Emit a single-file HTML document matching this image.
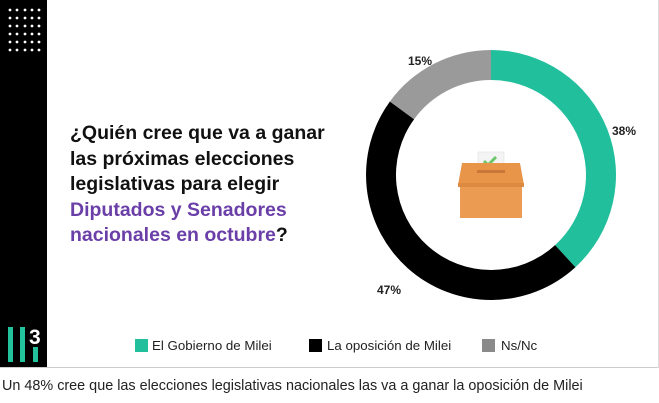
<!DOCTYPE html>
<html><head><meta charset="utf-8"><style>
body{margin:0;width:659px;height:403px;background:#fff;overflow:hidden;font-family:"Liberation Sans",sans-serif}
</style></head><body>
<svg width="659" height="403" viewBox="0 0 659 403" xmlns="http://www.w3.org/2000/svg" style="position:absolute;left:0;top:0">
<rect x="0" y="0" width="659" height="368" fill="#fff"/>
<line x1="0" y1="367.5" x2="659" y2="367.5" stroke="#ccc"/>
<line x1="658.5" y1="0" x2="658.5" y2="368" stroke="#ddd"/>
<rect x="0" y="0" width="47" height="367" fill="#000"/>
<g fill="#22c29c">
<rect x="8" y="327" width="5" height="35"/>
<rect x="20" y="327" width="5" height="35"/>
<rect x="33" y="347" width="5" height="15"/>
</g>
<text x="29" y="344" fill="#fff" font-size="21" font-weight="bold">3</text>
<g transform="translate(491,175)">
<path d="M0,-125 A125,125 0 0 1 84.4,92.2 L64.1,70.1 A95,95 0 0 0 0,-95 Z" fill="#22bf9d"/>
<path d="M84.4,92.2 A125,125 0 0 1 -101.1,-73.5 L-76.9,-55.8 A95,95 0 0 0 64.1,70.1 Z" fill="#000"/>
<path d="M-101.1,-73.5 A125,125 0 0 1 0,-125 L0,-95 A95,95 0 0 0 -76.9,-55.8 Z" fill="#9a9a9a"/>
</g>
<rect x="478" y="152" width="26" height="24" fill="#f4f4f4" stroke="#ddd" stroke-width="0.5"/>
<path d="M484,161 l4,4 l8,-8" stroke="#6cc76a" stroke-width="3" fill="none"/>
<path d="M462,163 L520,163 L524,185 L458,185 Z" fill="#e8954a"/>
<rect x="477" y="170" width="28" height="3" fill="#c9783a"/>
<rect x="460" y="185" width="62" height="33" fill="#eb9c52"/>
<rect x="458" y="183" width="66" height="4" fill="#dc8a42"/>
<g font-family="'Liberation Sans',sans-serif" font-weight="bold" font-size="12" fill="#222">
<text x="408" y="65">15%</text>
<text x="612" y="135">38%</text>
<text x="377" y="294">47%</text>
</g>
<g font-family="'Liberation Sans',sans-serif" font-weight="bold" font-size="19.5" fill="#111">
<text x="70" y="139">¿Quién cree que va a ganar</text>
<text x="70" y="165">las próximas elecciones</text>
<text x="70" y="190">legislativas para elegir</text>
<text x="70" y="216" fill="#6a3fa8">Diputados y Senadores</text>
<text x="70" y="241"><tspan fill="#6a3fa8">nacionales en octubre</tspan>?</text>
</g>
<rect x="135" y="339" width="13" height="13" fill="#22bf9d"/>
<rect x="309" y="339" width="13" height="13" fill="#000"/>
<rect x="482" y="339" width="13" height="13" fill="#8a8a8a"/>
<g font-size="13.3" fill="#222">
<text x="152" y="350">El Gobierno de Milei</text>
<text x="327" y="350">La oposición de Milei</text>
<text x="501" y="350">Ns/Nc</text>
</g>
<text x="2" y="390" font-size="14.4" fill="#222">Un 48% cree que las elecciones legislativas nacionales las va a ganar la oposición de Milei</text>
<g fill="#fff">
<circle cx="10" cy="10" r="1.4"/><circle cx="17" cy="10" r="1.4"/><circle cx="25" cy="10" r="1.4"/><circle cx="32" cy="10" r="1.4"/><circle cx="39" cy="10" r="1.4"/>
<circle cx="10" cy="18" r="1.4"/><circle cx="17" cy="18" r="1.4"/><circle cx="25" cy="18" r="1.4"/><circle cx="32" cy="18" r="1.4"/><circle cx="39" cy="18" r="1.4"/>
<circle cx="10" cy="26" r="1.4"/><circle cx="17" cy="26" r="1.4"/><circle cx="25" cy="26" r="1.4"/><circle cx="32" cy="26" r="1.4"/><circle cx="39" cy="26" r="1.4"/>
<circle cx="10" cy="34" r="1.4"/><circle cx="17" cy="34" r="1.4"/><circle cx="25" cy="34" r="1.4"/><circle cx="32" cy="34" r="1.4"/><circle cx="39" cy="34" r="1.4"/>
<circle cx="10" cy="42" r="1.4"/><circle cx="17" cy="42" r="1.4"/><circle cx="25" cy="42" r="1.4"/><circle cx="32" cy="42" r="1.4"/><circle cx="39" cy="42" r="1.4"/>
<circle cx="10" cy="50" r="1.4"/><circle cx="17" cy="50" r="1.4"/><circle cx="25" cy="50" r="1.4"/><circle cx="32" cy="50" r="1.4"/><circle cx="39" cy="50" r="1.4"/>
</g>
</svg>
</body></html>
